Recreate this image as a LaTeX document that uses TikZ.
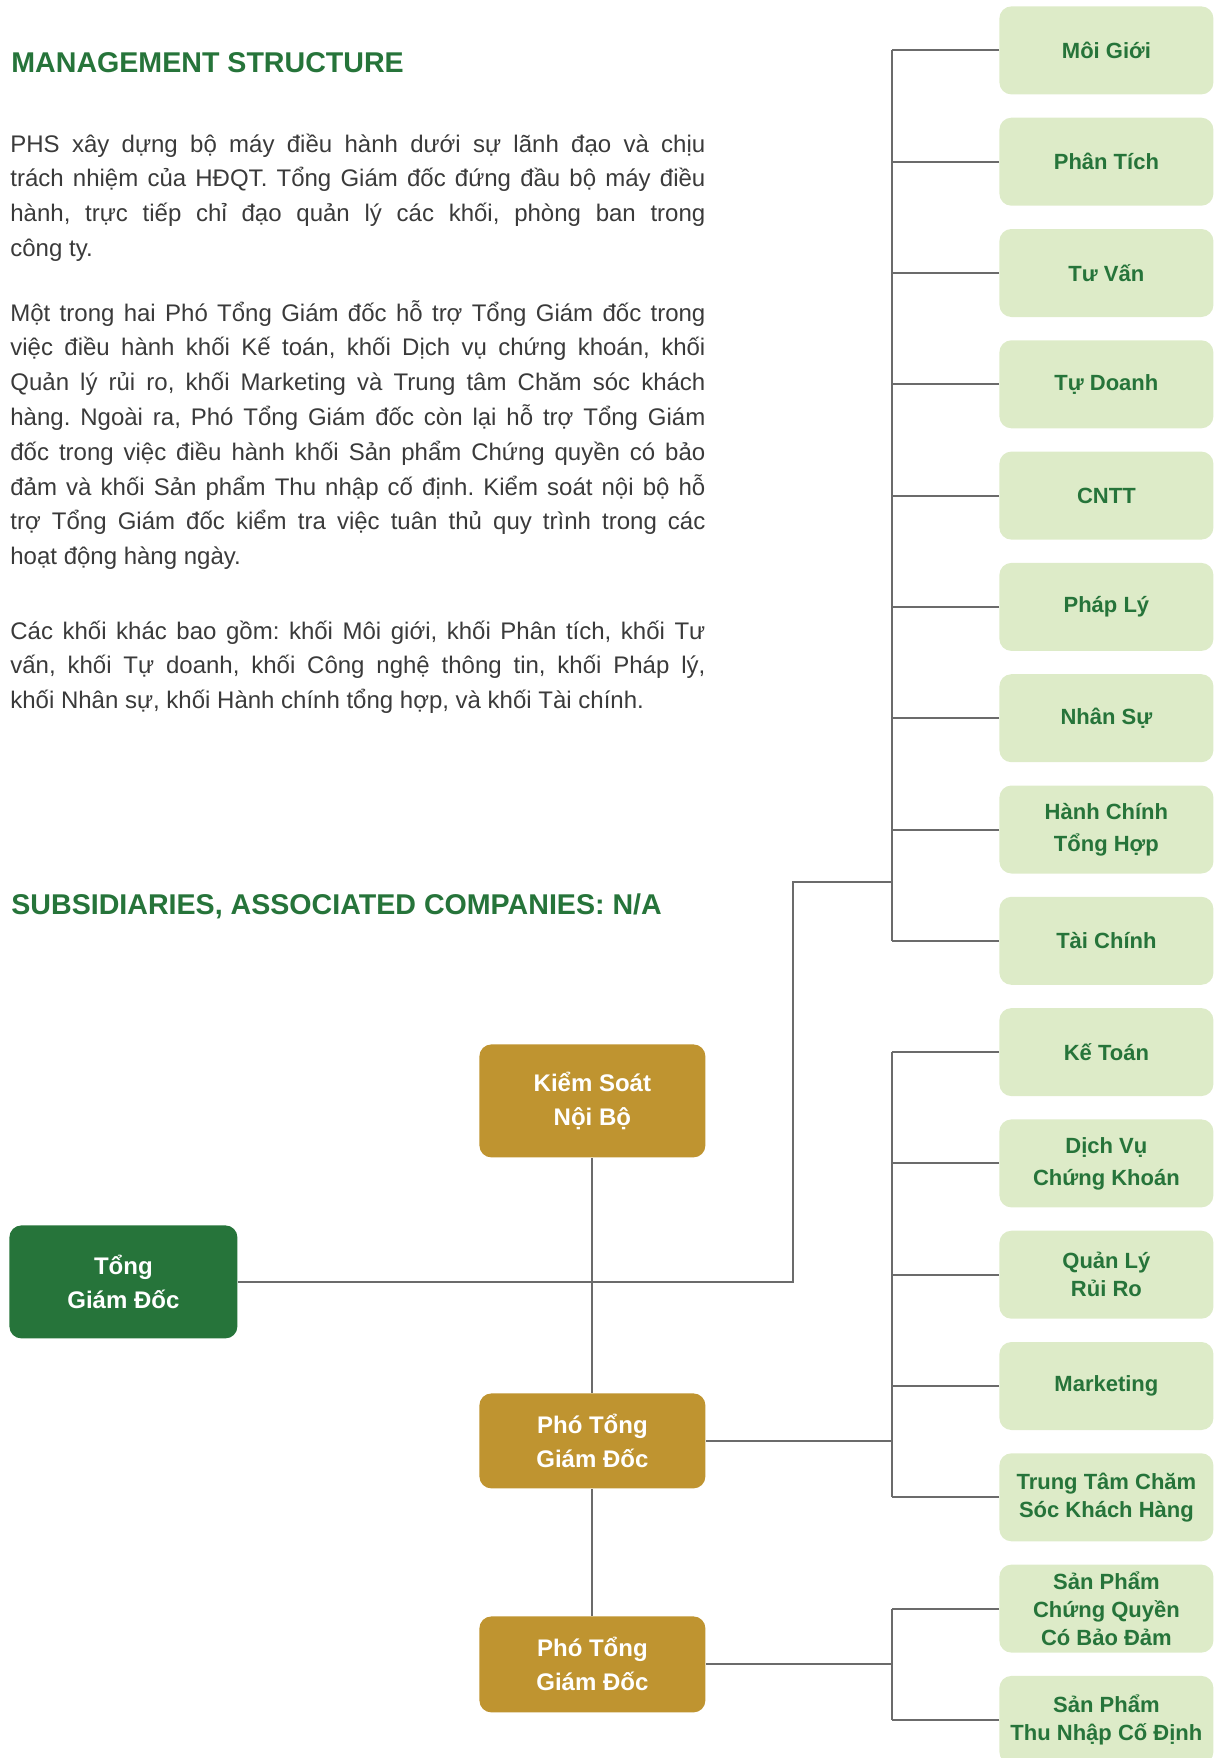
\documentclass[tikz,border=0pt]{standalone}
\usepackage{fontspec}
\setmainfont{Liberation Sans}
\definecolor{dgreen}{HTML}{26743A}
\definecolor{lightg}{HTML}{DDEBC8}
\definecolor{gold}{HTML}{BF9430}
\definecolor{lineg}{HTML}{6B6B6B}
\definecolor{bodyg}{HTML}{3A3A3A}
\frenchspacing
\begin{document}
\begin{tikzpicture}[x=0.5pt,y=-0.5pt,
  rbox/.style={fill=lightg, rounded corners=6pt, minimum width=107pt, minimum height=44pt,
    anchor=north west, inner sep=0pt, align=center, text=dgreen,
    font=\bfseries\fontsize{11}{14}\selectfont},
  gbox/.style={fill=gold, rounded corners=6pt, minimum width=113pt,
    anchor=north west, inner sep=0pt, align=center, text=white,
    font=\bfseries\fontsize{12}{17}\selectfont},
  tbox/.style={gbox, fill=dgreen, minimum width=114pt},
  conn/.style={draw=lineg, line width=1pt},
  heading/.style={anchor=base west, inner sep=0pt, text=dgreen,
    font=\bfseries\fontsize{14.3}{17}\selectfont},
  para/.style={anchor=base west, inner sep=0pt, text width=347.5pt, text=bodyg,
    align=justify, font=\frenchspacing\fontsize{12}{17.4}\selectfont}
]
\useasboundingbox (0,0) rectangle (1214,1758);
\clip (0,0) rectangle (1214,1758);

% headings
\node[heading] (h1) at (11,72) {MANAGEMENT STRUCTURE};
\node[heading] (h2) at (11,914) {SUBSIDIARIES, ASSOCIATED COMPANIES: N/A};

% paragraphs
\node[para] (p1) at (10,152) {PHS xây dựng bộ máy điều hành dưới sự lãnh đạo và chịu\linebreak
trách nhiệm của HĐQT. Tổng Giám đốc đứng đầu bộ máy điều\linebreak
hành, trực tiếp chỉ đạo quản lý các khối, phòng ban trong\linebreak
công ty.};
\node[para] (p2) at (10,321) {Một trong hai Phó Tổng Giám đốc hỗ trợ Tổng Giám đốc trong\linebreak
việc điều hành khối Kế toán, khối Dịch vụ chứng khoán, khối\linebreak
Quản lý rủi ro, khối Marketing và Trung tâm Chăm sóc khách\linebreak
hàng. Ngoài ra, Phó Tổng Giám đốc còn lại hỗ trợ Tổng Giám\linebreak
đốc trong việc điều hành khối Sản phẩm Chứng quyền có bảo\linebreak
đảm và khối Sản phẩm Thu nhập cố định. Kiểm soát nội bộ hỗ\linebreak
trợ Tổng Giám đốc kiểm tra việc tuân thủ quy trình trong các\linebreak
hoạt động hàng ngày.};
\node[para] (p3) at (10,639) {Các khối khác bao gồm: khối Môi giới, khối Phân tích, khối Tư\linebreak
vấn, khối Tự doanh, khối Công nghệ thông tin, khối Pháp lý,\linebreak
khối Nhân sự, khối Hành chính tổng hợp, và khối Tài chính.};

% right boxes
\node[rbox] (r0) at (999,6) {Môi Giới};
\node[rbox] (r1) at (999,117.3) {Phân Tích};
\node[rbox] (r2) at (999,228.6) {Tư Vấn};
\node[rbox] (r3) at (999,339.9) {Tự Doanh};
\node[rbox] (r4) at (999,451.2) {CNTT};
\node[rbox] (r5) at (999,562.5) {Pháp Lý};
\node[rbox] (r6) at (999,673.8) {Nhân Sự};
\node[rbox] (r7) at (999,785.1) {Hành Chính\\[2pt]Tổng Hợp};
\node[rbox] (r8) at (999,896.4) {Tài Chính};
\node[rbox] (r9) at (999,1007.7) {Kế Toán};
\node[rbox] (r10) at (999,1119) {Dịch Vụ\\[2pt]Chứng Khoán};
\node[rbox] (r11) at (999,1230.3) {Quản Lý\\Rủi Ro};
\node[rbox] (r12) at (999,1341.6) {Marketing};
\node[rbox] (r13) at (999,1452.9) {Trung Tâm Chăm\\Sóc Khách Hàng};
\node[rbox] (r14) at (999,1564.2) {Sản Phẩm\\Chứng Quyền\\Có Bảo Đảm};
\node[rbox] (r15) at (999,1675.5) {Sản Phẩm\\Thu Nhập Cố Định};

% left boxes
\node[tbox, minimum height=56.5pt] (tgd) at (9,1225) {Tổng\\Giám Đốc};
\node[gbox, minimum height=56.5pt] (ks) at (479,1044) {Kiểm Soát\\Nội Bộ};
\node[gbox, minimum height=47.5pt] (pg1) at (479,1393) {Phó Tổng\\Giám Đốc};
\node[gbox, minimum height=48pt] (pg2) at (479,1616) {Phó Tổng\\Giám Đốc};

% connector trunk positions
\coordinate (v) at (892,0);
\coordinate (b1) at (793,882);
\coordinate (j1) at (892,882);

% group 1
\foreach \i in {0,...,8} { \draw[conn] (r\i.west) -- (r\i.west -| v); }
\draw[conn] (r0.west -| v) -- (r8.west -| v);
\draw[conn] (tgd.east) -| (b1) -- (j1);

% group 2
\foreach \i in {9,...,13} { \draw[conn] (r\i.west) -- (r\i.west -| v); }
\draw[conn] (r9.west -| v) -- (r13.west -| v);
\draw[conn] (pg1.east) -- (pg1.east -| v);

% group 3
\foreach \i in {14,15} { \draw[conn] (r\i.west) -- (r\i.west -| v); }
\draw[conn] (r14.west -| v) -- (r15.west -| v);
\draw[conn] (pg2.east) -- (pg2.east -| v);

% vertical chain
\draw[conn] (ks.south) -- (pg1.north);
\draw[conn] (pg1.south) -- (pg2.north);
\end{tikzpicture}
\end{document}
